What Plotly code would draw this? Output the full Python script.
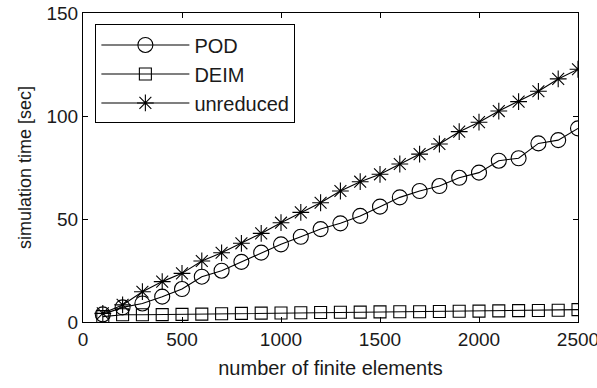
import plotly.graph_objects as go

n_elements = [100, 200, 300, 400, 500, 600, 700, 800, 900, 1000, 1100, 1200, 1300,
              1400, 1500, 1600, 1700, 1800, 1900, 2000, 2100, 2200, 2300, 2400, 2500]
pod = [3.7, 7.1, 9.0, 12.3, 16.0, 22.0, 24.9, 29.2, 33.7, 37.7, 41.4, 45.1, 47.9,
       51.5, 56.0, 60.5, 63.6, 66.0, 70.0, 72.5, 78.3, 79.5, 86.7, 88.3, 94.0]
deim = [2.6, 3.5, 3.5, 3.6, 3.7, 3.8, 4.0, 4.2, 4.3, 4.4, 4.5, 4.6, 4.7,
        4.8, 4.9, 5.0, 5.0, 5.1, 5.2, 5.3, 5.4, 5.5, 5.6, 5.7, 6.0]
unreduced = [4.2, 8.3, 14.7, 19.6, 23.6, 29.6, 33.6, 38.2, 43.0, 48.2, 53.2, 57.9, 63.6,
             68.1, 71.7, 76.7, 81.5, 86.4, 92.4, 97.0, 102.4, 107.0, 112.0, 118.0, 122.7]

x_ticks = [0, 500, 1000, 1500, 2000, 2500]
y_ticks = [0, 50, 100, 150]

FONT = "Liberation Sans, Arial, sans-serif"
BLACK = "#000000"
TEXT = "#1a1a1a"

fig = go.Figure()
fig.add_trace(go.Scatter(
    x=n_elements, y=pod, name="POD", mode="lines+markers",
    line=dict(color=BLACK, width=1.1),
    marker=dict(symbol="circle-open", size=15, color=BLACK, line=dict(width=1.1, color=BLACK)),
))
fig.add_trace(go.Scatter(
    x=n_elements, y=deim, name="DEIM", mode="lines+markers",
    line=dict(color=BLACK, width=1.1),
    marker=dict(symbol="square-open", size=12, color=BLACK, line=dict(width=1.1, color=BLACK)),
))
fig.add_trace(go.Scatter(
    x=n_elements, y=unreduced, name="unreduced", mode="lines+markers",
    line=dict(color=BLACK, width=1.1),
    marker=dict(symbol="asterisk-open", size=14, color=BLACK, line=dict(width=1.1, color=BLACK)),
))

axis_common = dict(
    showgrid=False, zeroline=False, showline=True, linecolor=BLACK, linewidth=1,
    mirror="ticks", ticks="inside", ticklen=5, tickcolor=BLACK, tickwidth=1,
    tickfont=dict(family=FONT, size=19, color=TEXT),
    ticklabeloverflow="allow", automargin=False,
)

fig.update_layout(
    width=597, height=388,
    margin=dict(l=83, r=19, t=13, b=66),
    paper_bgcolor="white", plot_bgcolor="white",
    font=dict(family=FONT, color=TEXT),
    xaxis=dict(range=[0, 2500], tickvals=x_ticks,
               title=dict(text="number of finite elements", font=dict(family=FONT, size=20), standoff=12),
               **axis_common),
    yaxis=dict(range=[0, 150], tickvals=y_ticks,
               title=dict(text="simulation time [sec]", font=dict(family=FONT, size=18), standoff=10),
               **axis_common),
    legend=dict(x=0.025, y=0.963, xanchor="left", yanchor="top",
                bgcolor="white", bordercolor=BLACK, borderwidth=1,
                font=dict(family=FONT, size=20, color=TEXT),
                itemwidth=88, tracegroupgap=0),
    showlegend=True,
)

fig.write_html("out.html")
